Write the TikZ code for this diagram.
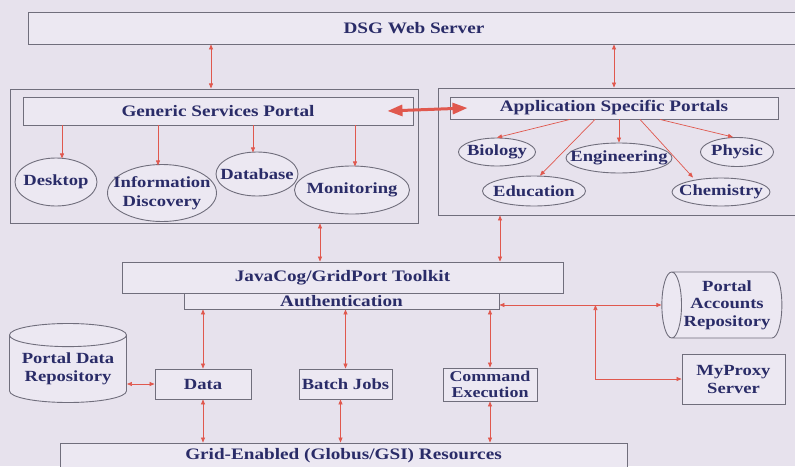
\documentclass[tikz,border=0pt]{standalone}
\usepackage{fontspec}
\setmainfont{Liberation Serif}[FakeStretch=1.2]
\usepackage{xcolor}
\usetikzlibrary{shapes.geometric, arrows.meta, positioning, calc}
\definecolor{bgpaper}{RGB}{231,226,237}
\definecolor{boxfill}{RGB}{236,232,242}
\definecolor{boxline}{RGB}{112,110,124}
\definecolor{inkblue}{RGB}{42,44,104}
\definecolor{linkred}{RGB}{224,88,78}

\begin{document}
\begin{tikzpicture}[
  x=1pt, y=-1pt,
  box/.style={draw=boxline, fill=boxfill, line width=0.9pt, inner sep=0pt, text=inkblue,
              font=\bfseries\fontsize{15.5}{18}\selectfont, align=center},
  bar/.style={box, font=\bfseries\fontsize{16}{19}\selectfont},
  frame/.style={draw=boxline, line width=0.9pt, inner sep=0pt},
  oval/.style={ellipse, draw=boxline, fill=boxfill, line width=0.9pt, inner xsep=-22pt, inner ysep=-6pt,
               text=inkblue, font=\bfseries\fontsize{15.5}{19.5}\selectfont, align=center},
  store/.style={cylinder, draw=boxline, fill=boxfill, line width=0.9pt, inner sep=0pt, text=inkblue,
                font=\bfseries\fontsize{15.5}{17.5}\selectfont, align=center},
  link/.style={{Triangle[length=5pt,width=4pt]}-{Triangle[length=5pt,width=4pt]}, linkred, line width=0.7pt},
  feed/.style={-{Triangle[length=5pt,width=4pt]}, linkred, line width=0.7pt},
  bigarrow/.style={{Triangle[length=15pt,width=11pt]}-{Triangle[length=15pt,width=11pt]}, linkred, line width=3pt}
]
\useasboundingbox (0,0) rectangle (795,466);
\fill[bgpaper] (0,0) rectangle (795,466);

% Top: web server
\node[bar, minimum width=772pt, minimum height=32pt] (web) at (414,28) {DSG Web Server};

% Portal frames
\node[frame, minimum width=408pt, minimum height=134pt] (genouter) at (214,156) {};
\node[frame, minimum width=362pt, minimum height=127pt] (appouter) at (619,151.5) {};
\node[bar, minimum width=390pt, minimum height=28pt] (gen) at (218,111) {Generic Services Portal};
\node[bar, minimum width=328pt, minimum height=22pt] (app) at (614,108) {Application Specific Portals};

% Generic services
\node[oval, minimum width=82pt, minimum height=48pt] (desk) at (56,182) {Desktop};
\node[oval, minimum width=109pt, minimum height=57pt] (info) at (162,193) {Information\\Discovery};
\node[oval, minimum width=82pt, minimum height=44pt] (dbase) at (257,174) {Database};
\node[oval, minimum width=115pt, minimum height=48pt] (mon) at (352,190) {Monitoring};

% Application portals
\node[oval, minimum width=77pt, minimum height=28pt] (bio) at (497,152) {Biology};
\node[oval, minimum width=106pt, minimum height=30pt] (eng) at (619,158) {Engineering};
\node[oval, minimum width=73pt, minimum height=29pt] (phys) at (737,152) {Physic};
\node[oval, minimum width=103pt, minimum height=30pt] (edu) at (534,191) {Education};
\node[oval, minimum width=98pt, minimum height=28pt] (chem) at (721,192) {Chemistry};

% Toolkit
\node[bar, minimum width=441pt, minimum height=31pt] (toolkit) at (342.5,277.5) {JavaCog/GridPort Toolkit};
\node[bar, minimum width=315pt, minimum height=16pt] (auth) at (341.5,301) {Authentication};

% Services
\node[store, shape border rotate=90, aspect=0.25, minimum width=117pt, minimum height=79pt] (pdr) at (68,369) {Portal Data\\Repository};
\node[box, minimum width=96pt, minimum height=30pt] (data) at (203,384) {Data};
\node[box, minimum width=93pt, minimum height=30pt] (batch) at (345.5,384) {Batch Jobs};
\node[box, minimum width=94pt, minimum height=33pt, font=\bfseries\fontsize{15}{16.5}\selectfont] (cmd) at (490,384.5) {Command\\Execution};
\node[store, shape border rotate=180, aspect=0.4, minimum width=66pt, minimum height=120pt] (par) at (727,305) {Portal\\Accounts\\Repository};
\node[box, minimum width=103pt, minimum height=50pt] (proxy) at (733.5,379) {MyProxy\\Server};

% Bottom: resources
\node[bar, minimum width=567pt, minimum height=34pt, text depth=12pt] (grid) at (343.5,460) {Grid-Enabled (Globus/GSI) Resources};

% Arrows
\draw[link] (web.south -| gen.north) ++(-7pt,0) -- ++(0,-44pt);
\draw[link] (web.south -| app.north) -- (app.north |- appouter.north);
\draw[bigarrow] ([xshift=-26pt]gen.east) -- ([xshift=18pt]app.west);
\draw[feed] (desk.north |- gen.south) ++(6pt,0) -- ++(0,-33pt);
\draw[feed] (info.north |- gen.south) ++(-4pt,0) -- ++(0,-40pt);
\draw[feed] (dbase.north |- gen.south) ++(-4pt,0) -- ++(0,-27pt);
\draw[feed] (mon.north |- gen.south) ++(3pt,0) -- ++(0,-41pt);
\draw[feed] ([xshift=-44pt]app.south) -- (bio.north);
\draw[feed] ([xshift=-19pt]app.south) -- ([xshift=6pt]edu.north);
\draw[feed] (app.south -| eng.north) -- (eng.north);
\draw[feed] ([xshift=26pt]app.south) -- ([xshift=-28pt]chem.north);
\draw[feed] ([xshift=46pt]app.south) -- ([xshift=-4pt]phys.north);
\draw[link] ([xshift=106pt]genouter.south) -- ([xshift=106pt]genouter.south |- toolkit.north);
\draw[link] ([xshift=-119pt]appouter.south) -- ([xshift=-119pt]appouter.south |- toolkit.north);
\draw[link] (auth.south -| data.north) -- (data.north);
\draw[link] (auth.south -| batch.north) -- (batch.north);
\draw[link] (auth.south -| cmd.north) -- (cmd.north);
\draw[link] (data.south) -- (data.south |- grid.north);
\draw[link] ([xshift=-5pt]batch.south) -- ([xshift=-5pt]batch.south |- grid.north);
\draw[link] (cmd.south) -- (cmd.south |- grid.north);
\draw[link] (data.west) -- (data.west -| pdr.east);
\coordinate (split) at ($(auth.east)+(96pt,-4pt)$);
\draw[link] ([yshift=-4pt]auth.east) -- ([yshift=-4pt]auth.east -| par.west);
\draw[link] (split) |- (proxy.west);

\end{tikzpicture}
\end{document}
